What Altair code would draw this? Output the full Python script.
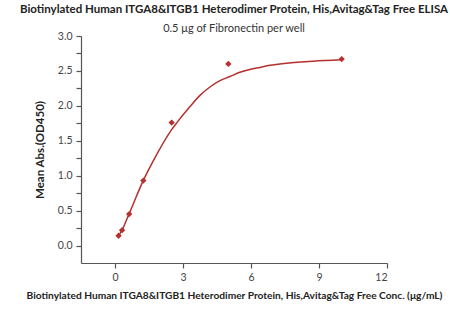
import altair as alt
import pandas as pd

conc = [0.156, 0.3125, 0.625, 1.25, 2.5, 5, 10]
od = [0.14, 0.22, 0.45, 0.93, 1.76, 2.60, 2.67]

curve_x = [0.16, 0.31, 0.63, 1.26, 1.70, 2.5, 2.73, 3.31, 3.75, 4.19, 4.63, 5.07,
           5.51, 5.95, 6.39, 6.84, 7.57, 8.74, 10.0]
curve_y = [0.14, 0.22, 0.46, 0.94, 1.22, 1.66, 1.76, 1.99, 2.15, 2.27, 2.36, 2.42,
           2.48, 2.52, 2.55, 2.58, 2.61, 2.64, 2.66]

x_ticks = [0, 3, 6, 9, 12]
y_ticks = [0, 0.25, 0.5, 0.75, 1.0, 1.25, 1.5, 1.75, 2.0, 2.25, 2.5, 2.75, 3.0]

pts = pd.DataFrame({"x": conc, "y": od})
cur = pd.DataFrame({"x": curve_x, "y": curve_y})

red = "#b5302e"
font = "Lato"

xs = alt.Scale(domain=[-1.5, 12], nice=False, zero=False)
ys = alt.Scale(domain=[-0.25, 3.0], nice=False, zero=False)

xax = alt.Axis(values=x_ticks,
               title="Biotinylated Human ITGA8&ITGB1 Heterodimer Protein, His,Avitag&Tag Free Conc. (μg/mL)",
               grid=False, tickSize=5, labelPadding=4, titlePadding=8, titleFontSize=10.2)
yax = alt.Axis(values=y_ticks, title="Mean Abs.(OD450)", grid=False, tickSize=5,
               labelExpr="(round(datum.value * 4) % 2 == 0) ? format(datum.value, '.1f') : ''",
               labelOverlap=False, labelPadding=4, titlePadding=12, titleFontSize=11.5)

line = alt.Chart(cur).mark_line(color=red, strokeWidth=1.5, interpolate="monotone").encode(
    x=alt.X("x:Q", scale=xs, axis=xax),
    y=alt.Y("y:Q", scale=ys, axis=yax),
)
points = alt.Chart(pts).mark_point(shape="diamond", filled=True, color=red, size=40, opacity=1).encode(
    x=alt.X("x:Q", scale=xs, axis=xax),
    y=alt.Y("y:Q", scale=ys, axis=yax),
)

chart = alt.layer(line, points).properties(
    width=306, height=227,
    title=alt.TitleParams(
        text="Biotinylated Human ITGA8&ITGB1 Heterodimer Protein, His,Avitag&Tag Free ELISA",
        subtitle="0.5 μg of Fibronectin per well",
        font=font, fontSize=11.5, fontWeight="bold", color="#222222",
        subtitleFont=font, subtitleFontSize=11, subtitleColor="#333333",
        anchor="middle", frame="group", offset=-3, subtitlePadding=8,
    ),
    autosize=alt.AutoSizeParams(type="none"),
    padding={"left": 81, "top": 36, "right": 63, "bottom": 53},
).configure_view(stroke=None).configure_axis(
    domainColor="#555555", tickColor="#555555", labelColor="#444444",
    labelFont=font, labelFontSize=10.5, titleFont=font,
    titleFontWeight="bold", titleColor="#222222", domainWidth=1.2, tickWidth=1.2,
)

chart.save("out.html", embed_options={"renderer": "svg", "actions": False})
